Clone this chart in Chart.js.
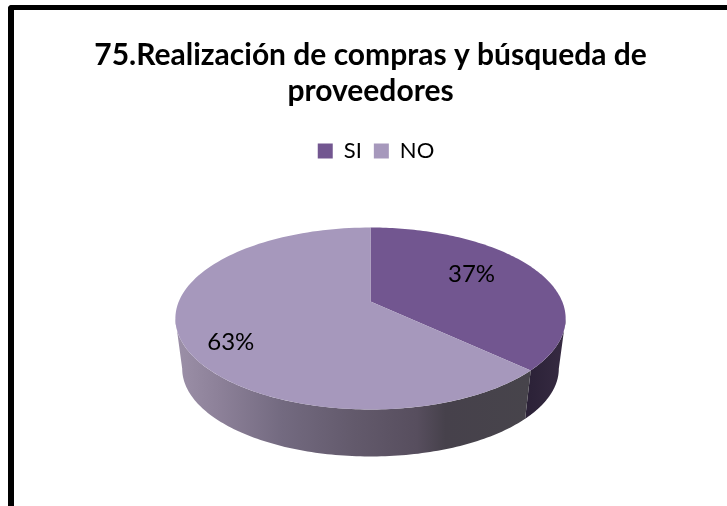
<!DOCTYPE html>
<html>
<head>
<meta charset="utf-8">
<script src="https://cdn.jsdelivr.net/npm/chart.js@4/dist/chart.umd.min.js"></script>
<style>
html,body{margin:0;padding:0;background:#fff;overflow:hidden;}
#frame{position:absolute;left:8px;top:5px;width:719px;height:501px;box-sizing:border-box;border-top:5px solid #000;border-left:6px solid #000;border-top-left-radius:4px;}
canvas{display:block;}
</style>
</head>
<body>
<div id="frame"><canvas id="c" width="713" height="496"></canvas></div>
<script>
const titleLines = ['75.Realización de compras y búsqueda de', 'proveedores'];
const categories = ['SI', 'NO'];
const values = [37, 63];
const topColors = ['#725690', '#a698bc'];

// 3D look: perspective projection of the pie disc
const proj = {rx: 191.7, ry: 87.8, k: 0.1867, lowScale: 0.965, lowDrop: 50.8};
const sideStops = [
  [[0, '#2c2238'], [1, '#372b42']],
  [[0, '#9c90a8'], [0.12, '#8d8199'], [0.3, '#736a80'], [0.5, '#635a6c'], [0.68, '#574e5e'], [0.76, '#46414b'], [1, '#47444b']]
];
const labelShift = [[0, -7], [0, 13]];
const labelFrac = [0.6, 0.75];

function pt(cx, cy, a, f, s, drop) {
  const X = Math.sin(a) * f, Y = Math.cos(a) * f, w = 1 + proj.k * Y;
  return [cx + s * proj.rx * X / w, cy + drop - s * proj.ry * Y / w];
}
function arcPath(ctx, cx, cy, a0, a1, s, drop, first) {
  const n = 120;
  for (let i = 0; i <= n; i++) {
    const p = pt(cx, cy, a0 + (a1 - a0) * i / n, 1, s, drop);
    if (i === 0 && first) ctx.moveTo(p[0], p[1]); else ctx.lineTo(p[0], p[1]);
  }
}
const pie3d = {
  id: 'pie3d',
  afterLayout(chart) {
    chart.legend.left += 11;
  },
  beforeDatasetsDraw(chart) {
    const ctx = chart.ctx, arcs = chart.getDatasetMeta(0).data;
    const sil = Math.asin(proj.k);
    const vis0 = Math.PI / 2 + sil, vis1 = 1.5 * Math.PI - sil;
    ctx.save();
    arcs.forEach((el, i) => {
      const a0 = el.startAngle + Math.PI / 2, a1 = el.endAngle + Math.PI / 2;
      const b0 = Math.max(a0, vis0), b1 = Math.min(a1, vis1);
      if (b1 <= b0) return;
      const xa = pt(el.x, el.y, b0, 1, 1, 0)[0], xb = pt(el.x, el.y, b1, 1, 1, 0)[0];
      const g = ctx.createLinearGradient(Math.min(xa, xb), 0, Math.max(xa, xb), 0);
      sideStops[i].forEach(s => g.addColorStop(s[0], s[1]));
      ctx.beginPath();
      arcPath(ctx, el.x, el.y, b0, b1, 1, 0, true);
      arcPath(ctx, el.x, el.y, b1, b0, proj.lowScale, proj.lowDrop, false);
      ctx.closePath();
      ctx.fillStyle = g;
      ctx.fill();
    });
    arcs.forEach((el, i) => {
      const a0 = el.startAngle + Math.PI / 2, a1 = el.endAngle + Math.PI / 2;
      ctx.beginPath();
      ctx.moveTo(el.x, el.y);
      arcPath(ctx, el.x, el.y, a0, a1, 1, 0, false);
      ctx.closePath();
      ctx.fillStyle = el.options.backgroundColor;
      ctx.fill();
    });
    const total = values.reduce((a, b) => a + b, 0);
    ctx.fillStyle = '#000';
    ctx.font = '24px Lato';
    ctx.textAlign = 'center';
    ctx.textBaseline = 'middle';
    arcs.forEach((el, i) => {
      const mid = (el.startAngle + el.endAngle) / 2 + Math.PI / 2;
      const p = pt(el.x, el.y, mid, labelFrac[i], 1, 0);
      ctx.fillText(Math.round(values[i] / total * 100) + '%', p[0] + labelShift[i][0], p[1] + labelShift[i][1]);
    });
    ctx.restore();
    return false;
  }
};
new Chart(document.getElementById('c'), {
  type: 'pie',
  data: {labels: categories, datasets: [{data: values, backgroundColor: topColors, borderWidth: 0}]},
  options: {
    responsive: false,
    animation: false,
    layout: {padding: {bottom: 75}},
    plugins: {
      title: {display: true, text: titleLines, color: '#000', align: 'center',
        font: {family: 'Lato', size: 30, weight: 'bold', lineHeight: 1.2},
        padding: {top: 27, bottom: 19}},
      legend: {display: true, position: 'top',
        labels: {color: '#000', boxWidth: 15, boxHeight: 15, padding: 12, font: {family: 'Lato', size: 22}}},
      tooltip: {enabled: false}
    }
  },
  plugins: [pie3d]
});
</script>
</body>
</html>
